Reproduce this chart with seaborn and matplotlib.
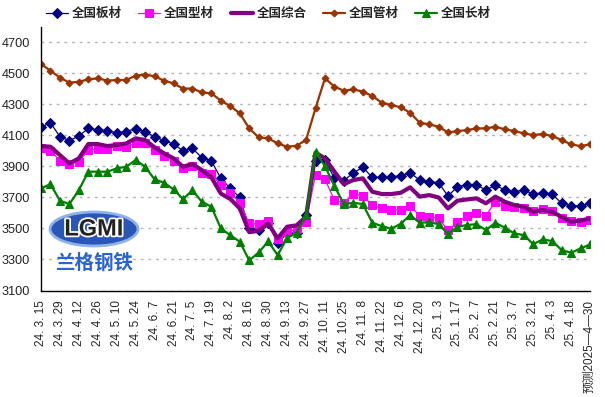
import numpy as np
import pandas as pd
import matplotlib
matplotlib.use("Agg")
import matplotlib.pyplot as plt
import matplotlib.patheffects as pe
from matplotlib.patches import Ellipse
import seaborn as sns

# ---------------- data ----------------
tick_labels = ["24. 3. 15", "24. 3. 29", "24. 4. 12", "24. 4. 26", "24. 5. 10", "24. 5. 24",
               "24. 6. 7", "24. 6. 21", "24. 7. 5", "24. 7. 19", "24. 8. 2", "24. 8. 16",
               "24. 8. 30", "24. 9. 13", "24. 9. 27", "24. 10. 11", "24. 10. 25", "24. 11. 8",
               "24. 11. 22", "24. 12. 6", "24. 12. 20", "25. 1. 3", "25. 1. 17", "25. 2. 7",
               "25. 2. 21", "25. 3. 7", "25. 3. 21", "25. 4. 3", "25. 4. 18", "预测2025—4—30"]

plate = [4152, 4182, 4091, 4066, 4096, 4145, 4136, 4130, 4117, 4124, 4144, 4124, 4091, 4066,
         4044, 4001, 4016, 3956, 3935, 3823, 3758, 3700, 3500, 3489, 3537, 3403, 3468, 3472,
         3586, 3935, 3941, 3823, 3808, 3859, 3894, 3829, 3829, 3833, 3840, 3859, 3812, 3801,
         3795, 3709, 3769, 3782, 3782, 3747, 3780, 3747, 3737, 3747, 3722, 3730, 3722, 3662,
         3646, 3646, 3662]
section = [4020, 4001, 3937, 3915, 3930, 4005, 4010, 4010, 4031, 4027, 4048, 4053, 4005, 3967,
           3937, 3887, 3905, 3859, 3851, 3780, 3730, 3666, 3532, 3528, 3550, 3431, 3479, 3494,
           3543, 3846, 3816, 3683, 3666, 3722, 3709, 3651, 3629, 3619, 3619, 3646, 3582, 3575,
           3565, 3489, 3539, 3582, 3597, 3582, 3672, 3646, 3640, 3634, 3614, 3625, 3614, 3569,
           3550, 3543, 3554]
composite = [4031, 4027, 3973, 3919, 3952, 4044, 4044, 4031, 4038, 4048, 4081, 4070, 4023, 3984,
             3952, 3898, 3915, 3876, 3830, 3725, 3690, 3629, 3476, 3485, 3532, 3436, 3511, 3520,
             3575, 3989, 3952, 3866, 3786, 3812, 3823, 3737, 3722, 3722, 3730, 3765, 3705, 3715,
             3700, 3629, 3679, 3687, 3694, 3662, 3705, 3672, 3651, 3640, 3608, 3619, 3608, 3575,
             3543, 3550, 3565]
pipe = [4560, 4517, 4472, 4440, 4446, 4461, 4468, 4453, 4457, 4457, 4485, 4492, 4481, 4453,
        4435, 4402, 4402, 4377, 4371, 4324, 4289, 4242, 4145, 4087, 4081, 4048, 4027, 4033,
        4070, 4274, 4468, 4414, 4388, 4397, 4382, 4354, 4311, 4296, 4281, 4246, 4182, 4171,
        4156, 4119, 4128, 4134, 4145, 4145, 4156, 4139, 4128, 4113, 4102, 4109, 4096, 4070,
        4042, 4031, 4042]
long_prod = [3758, 3786, 3679, 3657, 3747, 3866, 3866, 3866, 3887, 3898, 3941, 3898, 3816, 3795,
             3752, 3690, 3745, 3672, 3640, 3500, 3457, 3414, 3294, 3345, 3416, 3328, 3438, 3472,
             3586, 3992, 3902, 3773, 3657, 3666, 3657, 3537, 3515, 3498, 3530, 3586, 3537, 3539,
             3528, 3464, 3511, 3522, 3528, 3489, 3537, 3505, 3468, 3457, 3399, 3429, 3419, 3361,
             3343, 3371, 3397]

series_names = ["全国板材", "全国型材", "全国综合", "全国管材", "全国长材"]
series_values = [plate, section, composite, pipe, long_prod]

# ---------------- style ----------------
sns.set_style("white")
plt.rcParams['font.family'] = ['Liberation Sans', 'Noto Sans CJK SC', 'DejaVu Sans']

W, H = 605, 397
fig = plt.figure(figsize=(W / 100, H / 100), dpi=100)
ax = fig.add_axes([41 / W, 1 - 290.5 / H, (590 - 41) / W, (290.5 - 26.8) / H])

styles = [
    dict(color="#000080", marker="D", markersize=5, linewidth=0.9),
    dict(color="#FF00FF", marker="s", markersize=6, linewidth=0.9),
    dict(color="#800080", marker=None, linewidth=3.0),
    dict(color="#993300", marker="D", markersize=3.5, linewidth=1.6),
    dict(color="#008000", marker="^", markersize=6, linewidth=1.6),
]

x = np.arange(len(plate))
for name, vals, st in zip(series_names, series_values, styles):
    df = pd.DataFrame({"x": x, "y": vals})
    kw = dict(st)
    if kw.get("marker") is not None:
        kw["markeredgecolor"] = kw["color"]
    else:
        kw.pop("marker")
    sns.lineplot(data=df, x="x", y="y", ax=ax, label=name, **kw)

ax.set_xlim(0, len(plate) - 1)
ax.set_ylim(3100, 4800)
ax.set_yticks(np.arange(3100, 4701, 200))
ax.set_xticks(np.arange(0, len(plate), 2))
ax.set_xticklabels(tick_labels, rotation=90, fontsize=8.5, va="top", ha="center")
ax.set_xlabel("")
ax.set_ylabel("")
for lab in ax.get_xticklabels():
    if lab.get_text().startswith("预测"):
        lab.set_fontfamily(['Liberation Sans', 'Noto Sans CJK SC'])
ax.tick_params(axis="y", length=0, pad=8, labelsize=9.2, labelcolor="#222222")
ax.tick_params(axis="x", direction="out", length=4, width=1, color="black", pad=3)

ax.yaxis.grid(True, linestyle=(0, (2, 3.5)), color="#b4b4b4", linewidth=1)
ax.xaxis.grid(False)
for s in ["top", "right"]:
    ax.spines[s].set_visible(False)
for s in ["left", "bottom"]:
    ax.spines[s].set_color("black")
    ax.spines[s].set_linewidth(1)

handles, labels = ax.get_legend_handles_labels()
ax.get_legend().remove()
leg = fig.legend(handles, labels, ncol=5, loc="upper left",
                 bbox_to_anchor=(46 / W, 1 - 7 / H), frameon=False,
                 handlelength=1.76, handletextpad=0.32, columnspacing=1.3,
                 borderaxespad=0, borderpad=0,
                 prop=dict(family=['Noto Sans CJK SC'], weight="bold", size=9))

# logo
ell = Ellipse((94 / W, 1 - 229 / H), 88 / W, 34 / H, transform=fig.transFigure,
              facecolor="#2a56b8", edgecolor="#8fb3e8", linewidth=2, zorder=5)
fig.patches.append(ell)
fig.text(94 / W, 1 - 229 / H, "LGMI", ha="center", va="center", fontsize=17,
         fontweight="bold", color="#222222", zorder=6,
         path_effects=[pe.withStroke(linewidth=2.5, foreground="white")])
fig.text(94 / W, 1 - 263 / H, "兰格钢铁", ha="center", va="center", fontsize=14,
         fontweight="bold", color="#2a63d4", family=['Noto Sans CJK SC'], zorder=6)

fig.savefig("out.png", dpi=100)
